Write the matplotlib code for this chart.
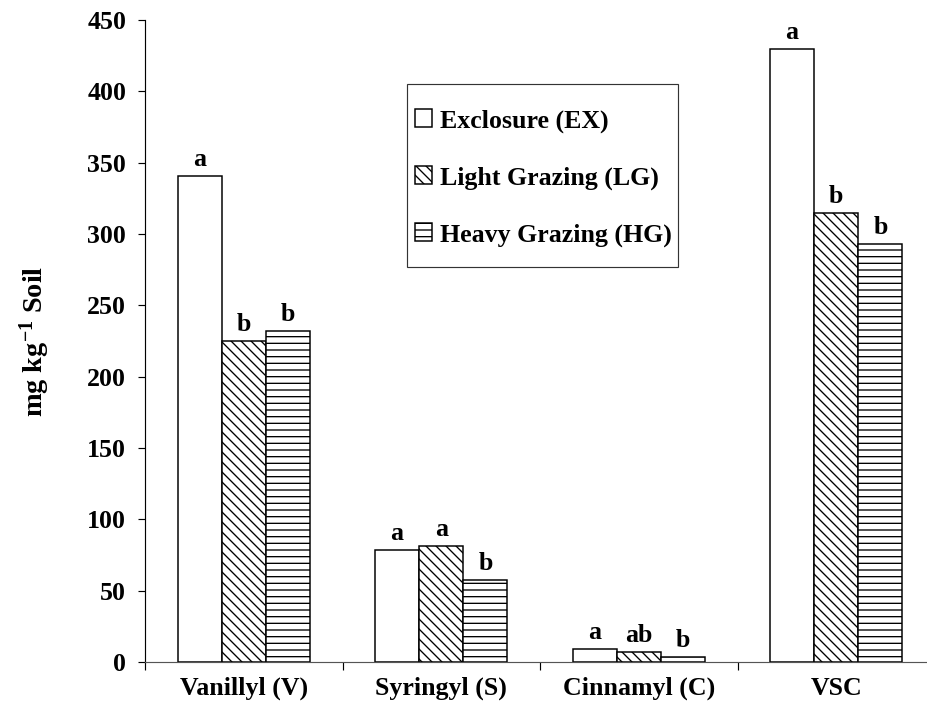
import numpy as np
import matplotlib
matplotlib.use("Agg")
from matplotlib import pyplot as plt
from matplotlib.patches import Rectangle

categories = ['Vanillyl (V)', 'Syringyl (S)', 'Cinnamyl (C)', 'VSC']
treatments = ['Exclosure (EX)', 'Light Grazing (LG)', 'Heavy Grazing (HG)']
ex_vals = [341, 78.5, 9, 430]
lg_vals = [225, 81, 7, 315]
hg_vals = [232, 57.5, 3.5, 293]
ex_letters = ['a', 'a', 'a', 'a']
lg_letters = ['b', 'a', 'ab', 'b']
hg_letters = ['b', 'b', 'b', 'b']
yticks = [0, 50, 100, 150, 200, 250, 300, 350, 400, 450]

plt.rcParams['font.family'] = ['Liberation Serif', 'DejaVu Serif']
plt.rcParams['font.weight'] = 'bold'
plt.rcParams['hatch.linewidth'] = 0.8
plt.rcParams['hatch.color'] = 'black'

fig = plt.figure(figsize=(927 / 120, 715 / 120), dpi=120)
ax = fig.add_axes([145 / 927, 53 / 715, 790 / 927, 642 / 715])

fs = 15.5
w = 0.2236
x = np.arange(len(categories)) + 0.5
series = [(ex_vals, ex_letters, ''), (lg_vals, lg_letters, '\\\\\\\\'), (hg_vals, hg_letters, '---')]

for j, (vals, letters, hatch) in enumerate(series):
    pos = x + (j - 1) * w
    ax.bar(pos, vals, width=w, color='white', edgecolor='black', linewidth=0.9,
           hatch=hatch, label=treatments[j])
    for px, v, t in zip(pos, vals, letters):
        ax.annotate(t, (px, v), xytext=(0, 3), textcoords='offset points',
                    ha='center', va='bottom', fontsize=fs, fontweight='bold')

ax.set_xlim(0, 4)
ax.set_ylim(0, 450)
ax.set_yticks(yticks)
ax.tick_params(axis='y', direction='out', length=4.2, width=0.7, pad=7, labelsize=fs)
ax.set_xticks([0, 1, 2, 3, 4])
ax.set_xticklabels([])
ax.set_xticks(x, minor=True)
ax.set_xticklabels(categories, minor=True, fontsize=fs, fontweight='bold')
ax.tick_params(axis='x', which='major', direction='out', length=4.8, width=0.7)
ax.tick_params(axis='x', which='minor', length=0, pad=9)

for s in ['top', 'right']:
    ax.spines[s].set_visible(False)
ax.spines['left'].set_linewidth(0.7)
ax.spines['bottom'].set_linewidth(0.7)
ax.spines['bottom'].set_color('#555555')

ax.set_ylabel('mg kg$\\mathregular{^{-1}}$ Soil', fontsize=17, fontweight='bold')
ax.yaxis.set_label_coords(-0.118, 0.5)

# legend without its own frame; the box is drawn separately (tighter left margin)
leg = ax.legend(loc='upper left', bbox_to_anchor=(0.342, 0.861), fontsize=fs,
                frameon=False, handlelength=0.66, handleheight=0.66,
                handletextpad=0.3, labelspacing=1.3, borderpad=0, borderaxespad=0)
for t in leg.get_texts():
    t.set_fontweight('bold')
ax.add_patch(Rectangle((0.332, 0.615), 0.343, 0.285, transform=ax.transAxes,
                       fill=False, edgecolor='#333333', linewidth=0.7, zorder=5))

fig.savefig('out.png', dpi=120)
